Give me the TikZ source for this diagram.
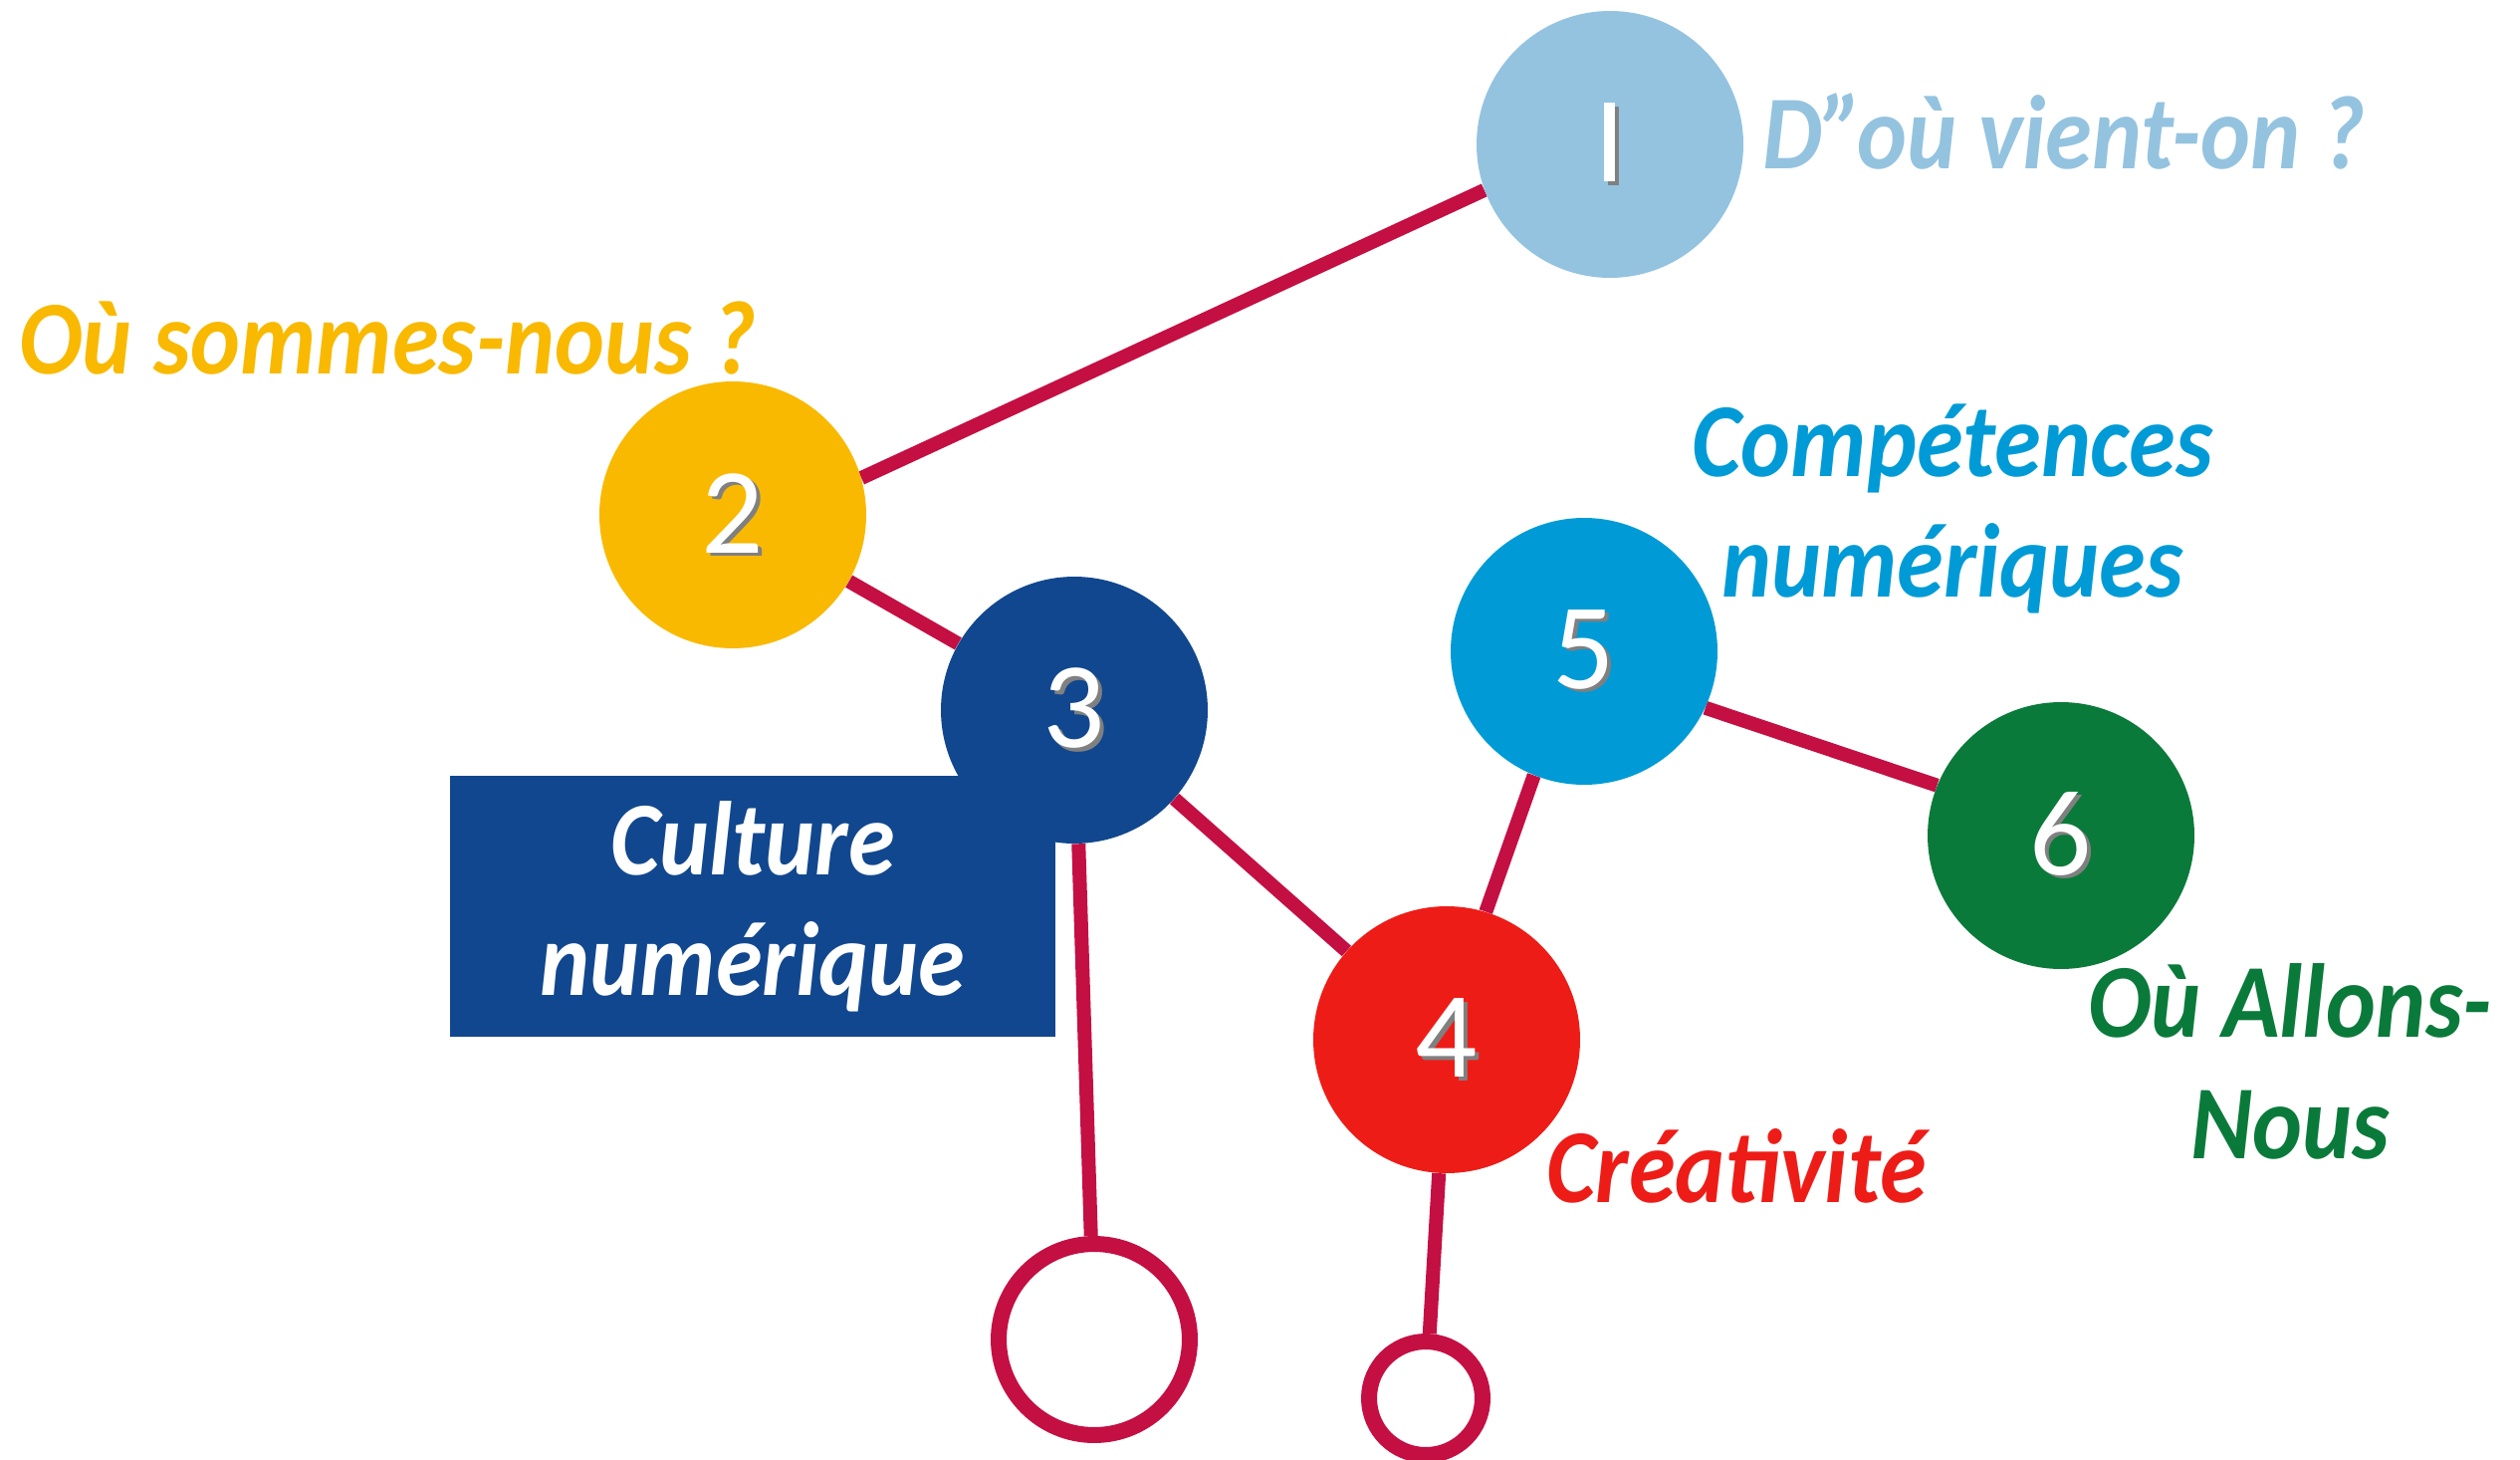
\documentclass[tikz,border=0pt]{standalone}
\usepackage{fontspec}
\setmainfont{Carlito}
\newfontfamily\tagfont[FakeStretch=0.9]{Carlito}
\usetikzlibrary{backgrounds}

\definecolor{linkred}{HTML}{C40F43}
\definecolor{paleblue}{HTML}{94C3E0}
\definecolor{amber}{HTML}{F9B900}
\definecolor{navy}{HTML}{11478E}
\definecolor{signalred}{HTML}{EE1C17}
\definecolor{skyblue}{HTML}{009BD6}
\definecolor{forest}{HTML}{0A7A3A}

% number with a small drop shadow
\newcommand\shadowed[1]{\makebox[0pt][l]{\hspace{2pt}\raisebox{-2pt}{\color{black!50}#1}}#1}

\begin{document}
\begin{tikzpicture}[x=0.02cm,y=-0.02cm,
	ball/.style={circle, minimum size=5.36cm, inner sep=0pt, text=white,
		font=\fontsize{70}{72}\selectfont},
	ring/.style={circle, draw=linkred, line width=0.32cm, fill=white, inner sep=0pt},
	link/.style={draw=linkred, line width=0.28cm},
	caption/.style={font=\tagfont\bfseries\itshape\fontsize{60}{69}\selectfont, align=center, inner sep=0pt}]
	\useasboundingbox (0,0) rectangle (2531,1466);

	% Box behind ball 3
	\node[fill=navy, minimum width=12.16cm, minimum height=5.26cm, text=white, caption] (culture) at (756,910) {Culture\\numérique};

	% Balls
	\node[ball, fill=paleblue] (b1) at (1617,145) {\shadowed{I}};
	\node[ball, fill=amber] (b2) at (736,517) {\shadowed{2}};
	\node[ball, fill=navy] (b3) at (1079,713) {\shadowed{3}};
	\node[ball, fill=signalred] (b4) at (1453,1044) {\shadowed{4}};
	\node[ball, fill=skyblue] (b5) at (1591,654) {\shadowed{5}};
	\node[ball, fill=forest] (b6) at (2070,839) {\shadowed{6}};

	% Open rings
	\node[ring, minimum size=3.84cm] (r3) at (1099,1345) {};
	\node[ring, minimum size=2.28cm] (r4) at (1432,1404) {};

	% Links
	\begin{scope}[on background layer]
		\draw[link] (b1.200) -- (b2.16);
		\draw[link] (b2) -- (b3);
		\draw[link] (b3) -- (b4);
		\draw[link] (b4.73) -- (b5.248);
		\draw[link] (b5.-25) -- (b6.158);
		\draw[link] (b3) -- (r3);
		\draw[link] (b4) -- (r4);
	\end{scope}

	% Captions
	\node[caption, text=paleblue, anchor=base west] (t1) at (1770,170) {D”où vient-on ?};
	\node[caption, text=amber, anchor=base west] (t2) at (19,376) {Où sommes-nous ?};
	\node[caption, text=skyblue] (t5) at (1961,511) {Compétences\\numériques};
	\node[caption, text=signalred, anchor=base west] (t4) at (1553,1207) {Créativité};
	\node[caption, text=forest] (t6) at (2300,1066) {Où Allons-\\Nous};
\end{tikzpicture}
\end{document}
